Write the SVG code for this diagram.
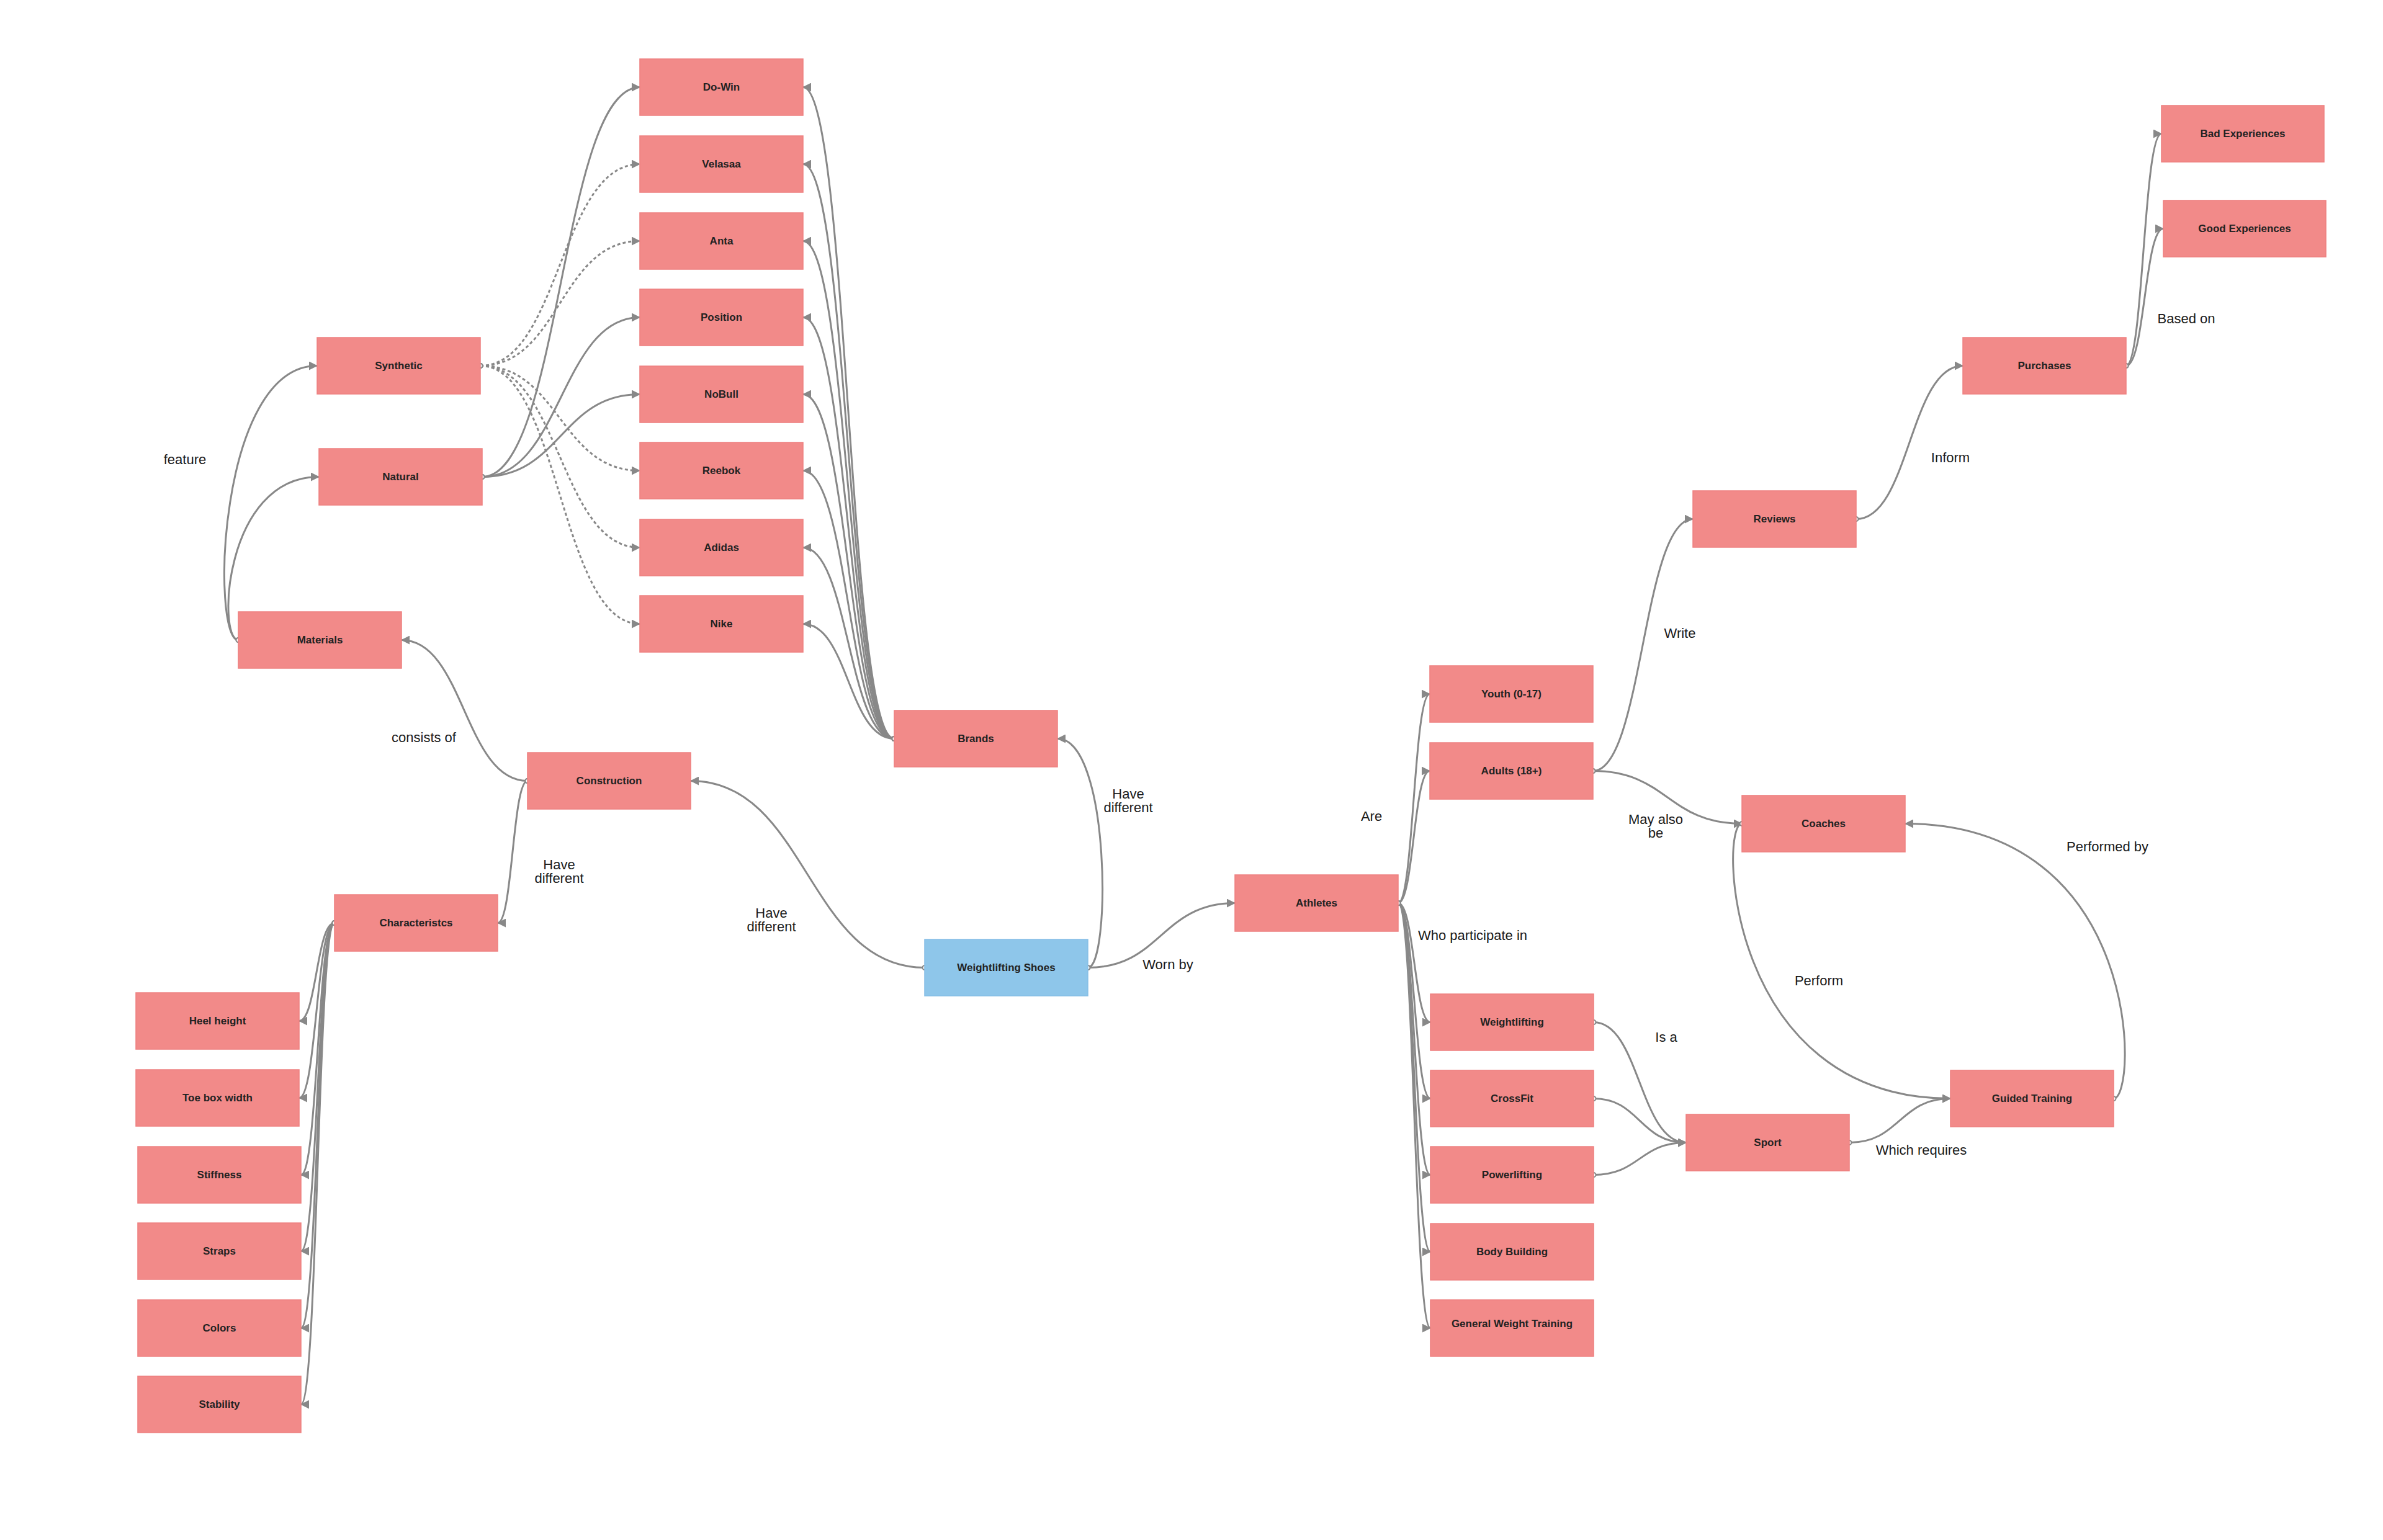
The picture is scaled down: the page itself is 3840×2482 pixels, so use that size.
<svg xmlns="http://www.w3.org/2000/svg" width="3840" height="2482" viewBox="0 0 3840 2482">
<style>
.n rect{fill:#F28A89;stroke:#EE8080;stroke-width:1.5}
.b rect{fill:#8EC6EA;stroke:#86BFE6;stroke-width:1.5}
.n text,.b text{font-family:"Liberation Sans",Arial,sans-serif;font-weight:bold;font-size:17px;fill:#222;text-anchor:middle}
.e{fill:none;stroke:#888;stroke-width:3;marker-end:url(#arr);marker-start:url(#dot)}
.d{stroke-dasharray:5 4}
.l{font-family:"Liberation Sans",Arial,sans-serif;font-size:22px;fill:#1a1a1a;text-anchor:middle}
</style>
<defs>
<marker id="arr" viewBox="0 0 14 14" refX="13" refY="7" markerWidth="14" markerHeight="14" markerUnits="userSpaceOnUse" orient="auto"><path d="M0,0 L14,7 L0,14 Z" fill="#888"/></marker>
<marker id="dot" viewBox="0 0 10 10" refX="5" refY="5" markerWidth="10" markerHeight="10" markerUnits="userSpaceOnUse" orient="auto"><circle cx="5" cy="5" r="3.5" fill="#fff" stroke="#888" stroke-width="2"/></marker>
</defs>
<rect width="3840" height="2482" fill="#fff"/>
<g id="connectors">
<path class="e" d="M1441,1190.5 C1367,1190.5 1367,140.5 1294,140.5"/>
<path class="e" d="M1441,1190.5 C1367,1190.5 1367,264.5 1294,264.5"/>
<path class="e" d="M1441,1190.5 C1367,1190.5 1367,388.5 1294,388.5"/>
<path class="e" d="M1441,1190.5 C1367,1190.5 1367,511.5 1294,511.5"/>
<path class="e" d="M1441,1190.5 C1367,1190.5 1367,635.5 1294,635.5"/>
<path class="e" d="M1441,1190.5 C1367,1190.5 1367,758.5 1294,758.5"/>
<path class="e" d="M1441,1190.5 C1367,1190.5 1367,882.5 1294,882.5"/>
<path class="e" d="M1441,1190.5 C1367,1190.5 1367,1005.5 1294,1005.5"/>
<path class="e d" d="M774,589.5 C902,589.5 902,264.5 1031,264.5"/>
<path class="e d" d="M774,589.5 C902,589.5 902,388.5 1031,388.5"/>
<path class="e d" d="M774,589.5 C902,589.5 902,758.5 1031,758.5"/>
<path class="e d" d="M774,589.5 C902,589.5 902,882.5 1031,882.5"/>
<path class="e d" d="M774,589.5 C902,589.5 902,1005.5 1031,1005.5"/>
<path class="e" d="M777,768.5 C904,768.5 904,140.5 1031,140.5"/>
<path class="e" d="M777,768.5 C904,768.5 904,511.5 1031,511.5"/>
<path class="e" d="M777,768.5 C904,768.5 904,635.5 1031,635.5"/>
<path class="e" d="M384,1031.5 C340,1031.5 350,589.5 511,589.5"/>
<path class="e" d="M384,1031.5 C350,1031.5 360,768.5 514,768.5"/>
<path class="e" d="M850,1258.5 C748,1258.5 748,1031.5 647,1031.5"/>
<path class="e" d="M850,1258.5 C826,1258.5 826,1487.5 802,1487.5"/>
<path class="e" d="M539,1487.5 C510,1487.5 510,1645.5 482,1645.5"/>
<path class="e" d="M539,1487.5 C510,1487.5 510,1769.5 482,1769.5"/>
<path class="e" d="M539,1487.5 C512,1487.5 512,1893.5 485,1893.5"/>
<path class="e" d="M539,1487.5 C512,1487.5 512,2016.5 485,2016.5"/>
<path class="e" d="M539,1487.5 C512,1487.5 512,2140.5 485,2140.5"/>
<path class="e" d="M539,1487.5 C512,1487.5 512,2263.5 485,2263.5"/>
<path class="e" d="M1490,1559.5 C1301,1559.5 1301,1258.5 1113,1258.5"/>
<path class="e" d="M1753,1559.5 C1790,1559.5 1790,1190.5 1704,1190.5"/>
<path class="e" d="M1753,1559.5 C1871,1559.5 1871,1455.5 1990,1455.5"/>
<path class="e" d="M2253,1455.5 C2278,1455.5 2278,1118.5 2304,1118.5"/>
<path class="e" d="M2253,1455.5 C2278,1455.5 2278,1242.5 2304,1242.5"/>
<path class="e" d="M2253,1455.5 C2279,1455.5 2279,1647.5 2305,1647.5"/>
<path class="e" d="M2253,1455.5 C2279,1455.5 2279,1770.5 2305,1770.5"/>
<path class="e" d="M2253,1455.5 C2279,1455.5 2279,1893.5 2305,1893.5"/>
<path class="e" d="M2253,1455.5 C2279,1455.5 2279,2017.5 2305,2017.5"/>
<path class="e" d="M2253,1455.5 C2279,1455.5 2279,2140.5 2305,2140.5"/>
<path class="e" d="M2567,1242.5 C2647,1242.5 2647,836.5 2728,836.5"/>
<path class="e" d="M2567,1242.5 C2687,1242.5 2687,1327.5 2807,1327.5"/>
<path class="e" d="M2991,836.5 C3077,836.5 3077,589.5 3163,589.5"/>
<path class="e" d="M3426,589.5 C3454,589.5 3454,215.5 3483,215.5"/>
<path class="e" d="M3426,589.5 C3456,589.5 3456,368.5 3486,368.5"/>
<path class="e" d="M2568,1647.5 C2642,1647.5 2642,1841.5 2717,1841.5"/>
<path class="e" d="M2568,1770.5 C2642,1770.5 2642,1841.5 2717,1841.5"/>
<path class="e" d="M2568,1893.5 C2642,1893.5 2642,1841.5 2717,1841.5"/>
<path class="e" d="M2980,1841.5 C3061,1841.5 3061,1770.5 3143,1770.5"/>
<path class="e" d="M2807,1327.5 C2770,1327.5 2780,1770.5 3143,1770.5"/>
<path class="e" d="M3406,1770.5 C3445,1770.5 3455,1327.5 3070,1327.5"/>
<text class="l" x="298" y="748">feature</text>
<text class="l" x="683" y="1196">consists of</text>
<text class="l" x="901" y="1401">Have</text>
<text class="l" x="901" y="1423">different</text>
<text class="l" x="1243" y="1479">Have</text>
<text class="l" x="1243" y="1501">different</text>
<text class="l" x="1818" y="1287">Have</text>
<text class="l" x="1818" y="1309">different</text>
<text class="l" x="1882" y="1562">Worn by</text>
<text class="l" x="2210" y="1323">Are</text>
<text class="l" x="2373" y="1515">Who participate in</text>
<text class="l" x="2707" y="1028">Write</text>
<text class="l" x="2668" y="1328">May also</text>
<text class="l" x="2668" y="1350">be</text>
<text class="l" x="3143" y="745">Inform</text>
<text class="l" x="3523" y="521">Based on</text>
<text class="l" x="2685" y="1679">Is a</text>
<text class="l" x="2931" y="1588">Perform</text>
<text class="l" x="3096" y="1861">Which requires</text>
<text class="l" x="3396" y="1372">Performed by</text>
</g>
<g id="n-dowin" class="n"><rect x="1031" y="95" width="263" height="91"/><text x="1162.5" y="145.5">Do-Win</text></g>
<g id="n-velasaa" class="n"><rect x="1031" y="219" width="263" height="91"/><text x="1162.5" y="269.5">Velasaa</text></g>
<g id="n-anta" class="n"><rect x="1031" y="343" width="263" height="91"/><text x="1162.5" y="393.5">Anta</text></g>
<g id="n-position" class="n"><rect x="1031" y="466" width="263" height="91"/><text x="1162.5" y="516.5">Position</text></g>
<g id="n-nobull" class="n"><rect x="1031" y="590" width="263" height="91"/><text x="1162.5" y="640.5">NoBull</text></g>
<g id="n-reebok" class="n"><rect x="1031" y="713" width="263" height="91"/><text x="1162.5" y="763.5">Reebok</text></g>
<g id="n-adidas" class="n"><rect x="1031" y="837" width="263" height="91"/><text x="1162.5" y="887.5">Adidas</text></g>
<g id="n-nike" class="n"><rect x="1031" y="960" width="263" height="91"/><text x="1162.5" y="1010.5">Nike</text></g>
<g id="n-synthetic" class="n"><rect x="511" y="544" width="263" height="91"/><text x="642.5" y="594.5">Synthetic</text></g>
<g id="n-natural" class="n"><rect x="514" y="723" width="263" height="91"/><text x="645.5" y="773.5">Natural</text></g>
<g id="n-materials" class="n"><rect x="384" y="986" width="263" height="91"/><text x="515.5" y="1036.5">Materials</text></g>
<g id="n-construction" class="n"><rect x="850" y="1213" width="263" height="91"/><text x="981.5" y="1263.5">Construction</text></g>
<g id="n-characteristics" class="n"><rect x="539" y="1442" width="263" height="91"/><text x="670.5" y="1492.5">Characteristcs</text></g>
<g id="n-heel" class="n"><rect x="219" y="1600" width="263" height="91"/><text x="350.5" y="1650.5">Heel height</text></g>
<g id="n-toebox" class="n"><rect x="219" y="1724" width="263" height="91"/><text x="350.5" y="1774.5">Toe box width</text></g>
<g id="n-stiffness" class="n"><rect x="222" y="1848" width="263" height="91"/><text x="353.5" y="1898.5">Stiffness</text></g>
<g id="n-straps" class="n"><rect x="222" y="1971" width="263" height="91"/><text x="353.5" y="2021.5">Straps</text></g>
<g id="n-colors" class="n"><rect x="222" y="2095" width="263" height="91"/><text x="353.5" y="2145.5">Colors</text></g>
<g id="n-stability" class="n"><rect x="222" y="2218" width="263" height="91"/><text x="353.5" y="2268.5">Stability</text></g>
<g id="n-brands" class="n"><rect x="1441" y="1145" width="263" height="91"/><text x="1572.5" y="1195.5">Brands</text></g>
<g id="n-shoes" class="b"><rect x="1490" y="1514" width="263" height="91"/><text x="1621.5" y="1564.5">Weightlifting Shoes</text></g>
<g id="n-athletes" class="n"><rect x="1990" y="1410" width="263" height="91"/><text x="2121.5" y="1460.5">Athletes</text></g>
<g id="n-youth" class="n"><rect x="2304" y="1073" width="263" height="91"/><text x="2435.5" y="1123.5">Youth (0-17)</text></g>
<g id="n-adults" class="n"><rect x="2304" y="1197" width="263" height="91"/><text x="2435.5" y="1247.5">Adults (18+)</text></g>
<g id="n-weightlifting" class="n"><rect x="2305" y="1602" width="263" height="91"/><text x="2436.5" y="1652.5">Weightlifting</text></g>
<g id="n-crossfit" class="n"><rect x="2305" y="1725" width="263" height="91"/><text x="2436.5" y="1775.5">CrossFit</text></g>
<g id="n-powerlifting" class="n"><rect x="2305" y="1848" width="263" height="91"/><text x="2436.5" y="1898.5">Powerlifting</text></g>
<g id="n-bodybuilding" class="n"><rect x="2305" y="1972" width="263" height="91"/><text x="2436.5" y="2022.5">Body Building</text></g>
<g id="n-general" class="n"><rect x="2305" y="2095" width="263" height="91"/><text x="2436.5" y="2138.5">General Weight Training</text></g>
<g id="n-sport" class="n"><rect x="2717" y="1796" width="263" height="91"/><text x="2848.5" y="1846.5">Sport</text></g>
<g id="n-guided" class="n"><rect x="3143" y="1725" width="263" height="91"/><text x="3274.5" y="1775.5">Guided Training</text></g>
<g id="n-coaches" class="n"><rect x="2807" y="1282" width="263" height="91"/><text x="2938.5" y="1332.5">Coaches</text></g>
<g id="n-reviews" class="n"><rect x="2728" y="791" width="263" height="91"/><text x="2859.5" y="841.5">Reviews</text></g>
<g id="n-purchases" class="n"><rect x="3163" y="544" width="263" height="91"/><text x="3294.5" y="594.5">Purchases</text></g>
<g id="n-bad" class="n"><rect x="3483" y="170" width="262" height="91"/><text x="3614" y="220.5">Bad Experiences</text></g>
<g id="n-good" class="n"><rect x="3486" y="323" width="262" height="91"/><text x="3617" y="373.5">Good Experiences</text></g>
</svg>
